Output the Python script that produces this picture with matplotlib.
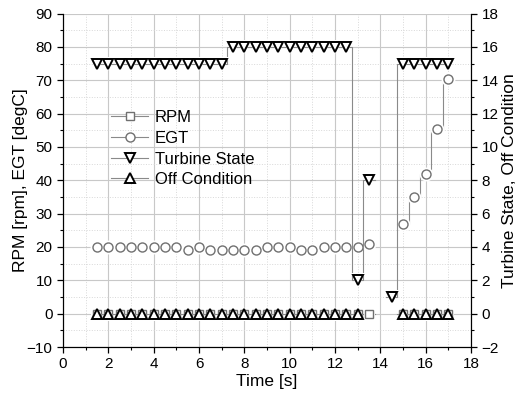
import numpy as np
import matplotlib
matplotlib.use("Agg")
import matplotlib.pyplot as plt
from matplotlib.ticker import MultipleLocator
from matplotlib.lines import Line2D

plt.rcParams['font.family'] = ['Liberation Sans', 'DejaVu Sans']

nan = np.nan
time_s = [1.5, 2.0, 2.5, 3.0, 3.5, 4.0, 4.5, 5.0, 5.5, 6.0, 6.5, 7.0,
          7.5, 8.0, 8.5, 9.0, 9.5, 10.0, 10.5, 11.0, 11.5, 12.0, 12.5,
          13.0, 13.5, 14.0, 14.5, 15.0, 15.5, 16.0, 16.5, 17.0]

rpm = [0, 0, 0, 0, 0, 0, 0, 0, 0, 0, 0, 0,
       0, 0, 0, 0, 0, 0, 0, 0, 0, 0, 0,
       0, 0, nan, nan, 0, 0, 0, 0, 0]

egt = [20, 20, 20, 20, 20, 20, 20, 20, 19, 20, 19, 19,
       19, 19, 19, 20, 20, 20, 19, 19, 20, 20, 20,
       20, 21, nan, nan, 27, 35, 42, 55.5, 70.5]

turbine_state = [15, 15, 15, 15, 15, 15, 15, 15, 15, 15, 15, 15,
                 16, 16, 16, 16, 16, 16, 16, 16, 16, 16, 16,
                 2, 8, nan, 1, 15, 15, 15, 15, 15]

off_condition = [0, 0, 0, 0, 0, 0, 0, 0, 0, 0, 0, 0,
                 0, 0, 0, 0, 0, 0, 0, 0, 0, 0, 0,
                 0, nan, nan, nan, 0, 0, 0, 0, 0]

line_col = '#8a8a8a'
grey_mk = '#707070'

fig = plt.figure(figsize=(5.21, 3.98), dpi=100)
ax1 = fig.add_axes([0.121, 0.128, 0.783, 0.838])
ax2 = ax1.twinx()


def draw_series(ax, y, marker, ms, edge, mew):
    # connecting line (step style), a white halo that opens a gap around
    # each symbol, then the hollow symbols themselves
    ax.plot(time_s, y, drawstyle='steps-mid', color=line_col, lw=0.8,
            zorder=2)
    ax.plot(time_s, y, ls='none', marker=marker, ms=ms + 3.5,
            markerfacecolor='white', markeredgecolor='white',
            markeredgewidth=0, zorder=2.5)
    ax.plot(time_s, y, ls='none', marker=marker, ms=ms,
            markerfacecolor='white', markeredgecolor=edge,
            markeredgewidth=mew, zorder=3)


draw_series(ax1, rpm, 's', 5.5, grey_mk, 1.0)
draw_series(ax1, egt, 'o', 6.5, grey_mk, 1.0)
draw_series(ax2, turbine_state, 'v', 7, 'black', 1.4)
draw_series(ax2, off_condition, '^', 7, 'black', 1.4)

ax1.set_xlim(0, 18)
ax1.set_ylim(-10, 90)
ax2.set_ylim(-2, 18)

ax1.xaxis.set_major_locator(MultipleLocator(2))
ax1.xaxis.set_minor_locator(MultipleLocator(1))
ax1.yaxis.set_major_locator(MultipleLocator(10))
ax1.yaxis.set_minor_locator(MultipleLocator(5))
ax2.yaxis.set_major_locator(MultipleLocator(2))
ax2.yaxis.set_minor_locator(MultipleLocator(1))

ax1.grid(which='major', color='#c8c8c8', lw=0.8, ls='-')
ax1.grid(which='minor', color='#d8d8d8', lw=0.7, ls=':')
ax1.set_axisbelow(True)

for ax in (ax1, ax2):
    ax.spines['top'].set_visible(False)
    ax.tick_params(which='major', direction='out', length=4, width=0.9,
                   labelsize=11, colors='black')
    ax.tick_params(which='minor', direction='out', length=2.5, width=0.8)
    ax.tick_params(axis='x', which='both', top=False)

ax1.set_xlabel('Time [s]', fontsize=12.5, labelpad=2)
ax1.set_ylabel('RPM [rpm], EGT [degC]', fontsize=12.5, labelpad=-1)
ax2.set_ylabel('Turbine State, Off Condition', fontsize=12.5, labelpad=2)

handles = [
    Line2D([], [], color=line_col, lw=0.8, marker='s', ms=5.5,
           markerfacecolor='white', markeredgecolor=grey_mk, label='RPM'),
    Line2D([], [], color=line_col, lw=0.8, marker='o', ms=6.5,
           markerfacecolor='white', markeredgecolor=grey_mk, label='EGT'),
    Line2D([], [], color=line_col, lw=0.8, marker='v', ms=7,
           markerfacecolor='white', markeredgecolor='black',
           markeredgewidth=1.4, label='Turbine State'),
    Line2D([], [], color=line_col, lw=0.8, marker='^', ms=7,
           markerfacecolor='white', markeredgecolor='black',
           markeredgewidth=1.4, label='Off Condition'),
]
ax2.legend(handles=handles, loc='upper left', bbox_to_anchor=(0.09, 0.745),
           frameon=False, fontsize=12, handlelength=2.2, handletextpad=0.4,
           labelspacing=0.34, borderpad=0.2)

fig.savefig('out.png', dpi=100)
